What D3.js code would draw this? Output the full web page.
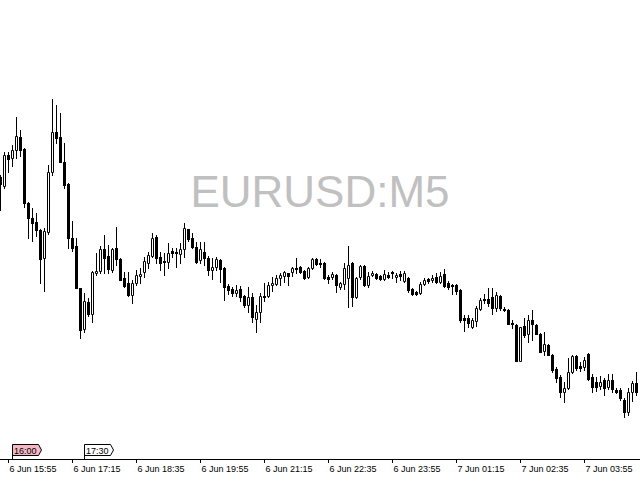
<!DOCTYPE html>
<html>
<head>
<meta charset="utf-8">
<script src="https://cdn.jsdelivr.net/npm/d3@7"></script>
<style>
  body { margin: 0; background: #fff; }
  svg { display: block; }
</style>
</head>
<body>
<div id="chart"></div>
<script>
"use strict";

// chart title (watermark) and bar timing
var symbolTitle = "EURUSD:M5";
var firstBar = "2019-06-06 15:45";
var barMinutes = 5;

// OHLC prices, one per M5 bar
var openPrices = [
  1.13023,1.13014,1.13045,1.13042,1.13050,1.13063,1.13051,1.12997,1.12982,1.12978,
  1.12970,1.12942,1.12968,1.13028,1.13068,1.13063,1.13038,1.13016,1.12962,1.12954,
  1.12912,1.12871,1.12898,1.12886,1.12927,1.12929,1.12951,1.12944,1.12930,1.12952,
  1.12941,1.12922,1.12917,1.12905,1.12917,1.12924,1.12928,1.12937,1.12944,1.12963,
  1.12943,1.12939,1.12938,1.12949,1.12948,1.12946,1.12951,1.12971,1.12962,1.12953,
  1.12940,1.12948,1.12942,1.12930,1.12933,1.12940,1.12932,1.12914,1.12911,1.12907,
  1.12911,1.12904,1.12895,1.12903,1.12881,1.12888,1.12904,1.12904,1.12915,1.12916,
  1.12922,1.12924,1.12927,1.12928,1.12932,1.12933,1.12929,1.12923,1.12932,1.12941,
  1.12937,1.12937,1.12923,1.12923,1.12925,1.12913,1.12916,1.12922,1.12937,1.12903,
  1.12923,1.12934,1.12915,1.12925,1.12926,1.12924,1.12921,1.12925,1.12928,1.12923,
  1.12926,1.12919,1.12922,1.12911,1.12908,1.12907,1.12916,1.12921,1.12920,1.12923,
  1.12918,1.12926,1.12917,1.12915,1.12915,1.12910,1.12882,1.12882,1.12873,1.12879,
  1.12891,1.12901,1.12901,1.12903,1.12892,1.12904,1.12891,1.12890,1.12877,1.12875,
  1.12839,1.12874,1.12866,1.12880,1.12875,1.12866,1.12849,1.12855,1.12845,1.12831,
  1.12823,1.12808,1.12812,1.12828,1.12844,1.12834,1.12833,1.12846,1.12823,1.12818,
  1.12814,1.12820,1.12813,1.12820,1.12810,1.12810,1.12800,1.12788,1.12808,1.12817
];
var highPrices = [
  1.13025,1.13048,1.13048,1.13055,1.13083,1.13070,1.13052,1.12998,1.12992,1.12987,
  1.12971,1.12972,1.13035,1.13101,1.13095,1.13087,1.13057,1.13017,1.12979,1.12962,
  1.12912,1.12907,1.12902,1.12929,1.12947,1.12954,1.12965,1.12955,1.12952,1.12973,
  1.12942,1.12928,1.12928,1.12920,1.12930,1.12932,1.12943,1.12948,1.12967,1.12965,
  1.12948,1.12947,1.12957,1.12952,1.12952,1.12957,1.12977,1.12971,1.12967,1.12958,
  1.12958,1.12958,1.12944,1.12942,1.12943,1.12941,1.12933,1.12916,1.12913,1.12915,
  1.12914,1.12905,1.12913,1.12907,1.12895,1.12907,1.12917,1.12918,1.12923,1.12925,
  1.12927,1.12929,1.12927,1.12933,1.12942,1.12934,1.12930,1.12933,1.12942,1.12942,
  1.12941,1.12938,1.12925,1.12928,1.12926,1.12918,1.12937,1.12954,1.12938,1.12923,
  1.12935,1.12935,1.12928,1.12929,1.12927,1.12925,1.12930,1.12928,1.12929,1.12927,
  1.12929,1.12929,1.12923,1.12912,1.12909,1.12918,1.12922,1.12922,1.12925,1.12927,
  1.12928,1.12931,1.12919,1.12916,1.12916,1.12911,1.12885,1.12885,1.12882,1.12894,
  1.12902,1.12906,1.12912,1.12912,1.12908,1.12905,1.12893,1.12891,1.12880,1.12876,
  1.12873,1.12882,1.12885,1.12890,1.12876,1.12867,1.12868,1.12856,1.12846,1.12833,
  1.12825,1.12818,1.12842,1.12845,1.12845,1.12838,1.12843,1.12847,1.12826,1.12823,
  1.12824,1.12822,1.12826,1.12826,1.12812,1.12812,1.12802,1.12812,1.12819,1.12828
];
var lowPrices = [
  1.12990,1.13012,1.13028,1.13034,1.13042,1.13044,1.12993,1.12962,1.12959,1.12964,
  1.12917,1.12909,1.12966,1.13025,1.13057,1.13038,1.13012,1.12952,1.12949,1.12912,
  1.12862,1.12868,1.12884,1.12878,1.12925,1.12927,1.12927,1.12927,1.12928,1.12935,
  1.12920,1.12913,1.12904,1.12897,1.12915,1.12917,1.12923,1.12932,1.12943,1.12937,
  1.12930,1.12925,1.12932,1.12943,1.12933,1.12937,1.12943,1.12959,1.12952,1.12937,
  1.12937,1.12935,1.12925,1.12921,1.12930,1.12918,1.12900,1.12906,1.12904,1.12904,
  1.12899,1.12893,1.12888,1.12878,1.12868,1.12878,1.12899,1.12903,1.12909,1.12915,
  1.12915,1.12918,1.12915,1.12924,1.12927,1.12927,1.12921,1.12922,1.12931,1.12935,
  1.12933,1.12921,1.12917,1.12921,1.12908,1.12911,1.12911,1.12893,1.12894,1.12902,
  1.12921,1.12914,1.12913,1.12924,1.12921,1.12920,1.12920,1.12922,1.12922,1.12918,
  1.12920,1.12918,1.12908,1.12905,1.12905,1.12906,1.12915,1.12917,1.12918,1.12917,
  1.12917,1.12913,1.12911,1.12906,1.12906,1.12878,1.12869,1.12873,1.12872,1.12874,
  1.12890,1.12897,1.12894,1.12886,1.12889,1.12890,1.12889,1.12876,1.12872,1.12839,
  1.12839,1.12863,1.12858,1.12860,1.12866,1.12848,1.12845,1.12845,1.12828,1.12818,
  1.12803,1.12798,1.12811,1.12827,1.12830,1.12829,1.12830,1.12820,1.12808,1.12809,
  1.12811,1.12805,1.12811,1.12808,1.12807,1.12800,1.12783,1.12785,1.12799,1.12805
];
var closePrices = [
  1.13016,1.13045,1.13041,1.13050,1.13064,1.13050,1.12997,1.12982,1.12977,1.12970,
  1.12941,1.12969,1.13028,1.13068,1.13062,1.13038,1.13015,1.12962,1.12952,1.12912,
  1.12870,1.12899,1.12886,1.12928,1.12929,1.12951,1.12942,1.12931,1.12951,1.12941,
  1.12920,1.12914,1.12905,1.12917,1.12925,1.12926,1.12939,1.12945,1.12962,1.12942,
  1.12937,1.12938,1.12947,1.12947,1.12947,1.12951,1.12972,1.12961,1.12953,1.12938,
  1.12951,1.12942,1.12930,1.12933,1.12941,1.12931,1.12913,1.12910,1.12907,1.12910,
  1.12903,1.12895,1.12903,1.12883,1.12888,1.12904,1.12903,1.12915,1.12917,1.12922,
  1.12925,1.12928,1.12924,1.12932,1.12931,1.12928,1.12922,1.12932,1.12941,1.12936,
  1.12936,1.12922,1.12921,1.12926,1.12915,1.12917,1.12932,1.12935,1.12903,1.12922,
  1.12934,1.12915,1.12924,1.12927,1.12922,1.12921,1.12926,1.12923,1.12927,1.12925,
  1.12924,1.12927,1.12910,1.12906,1.12906,1.12916,1.12920,1.12919,1.12922,1.12918,
  1.12924,1.12914,1.12913,1.12914,1.12909,1.12880,1.12880,1.12877,1.12880,1.12892,
  1.12900,1.12900,1.12897,1.12892,1.12905,1.12892,1.12890,1.12876,1.12876,1.12839,
  1.12873,1.12865,1.12880,1.12876,1.12866,1.12848,1.12856,1.12845,1.12830,1.12822,
  1.12808,1.12812,1.12828,1.12844,1.12832,1.12832,1.12840,1.12821,1.12813,1.12813,
  1.12818,1.12812,1.12820,1.12811,1.12808,1.12802,1.12788,1.12808,1.12817,1.12808
];

// time axis ticks and the two time tags at the bottom
var tickTimes = ["2019-06-06 15:55", "2019-06-06 17:15", "2019-06-06 18:35", "2019-06-06 19:55",
                 "2019-06-06 21:15", "2019-06-06 22:35", "2019-06-06 23:55", "2019-06-07 01:15",
                 "2019-06-07 02:35", "2019-06-07 03:55"];
var tagTimes = ["2019-06-06 16:00", "2019-06-06 17:30"];
var tagColors = ["#f6b6c4", "#ffffff"];

var width = 640, height = 480, axisY = 459, barSpace = 4;
var priceTop = 1.13200, priceBottom = 1.12741;

var parseTime = d3.timeParse("%Y-%m-%d %H:%M");
var t0 = parseTime(firstBar);

var bars = openPrices.map(function(o, i) {
  return { t: d3.timeMinute.offset(t0, i * barMinutes), o: o, h: highPrices[i], l: lowPrices[i], c: closePrices[i] };
});

var x = d3.scaleTime()
  .domain([t0, d3.timeMinute.offset(t0, bars.length * barMinutes)])
  .range([0, bars.length * barSpace]);
var y = d3.scaleLinear()
  .domain([priceBottom, priceTop])
  .range([axisY, 0]);

function px(t) { return Math.round(x(t)); }
function py(p) { return Math.round(y(p)); }

var svg = d3.select("#chart").append("svg")
  .attr("width", width)
  .attr("height", height)
  .style("font-family", "'Liberation Sans', Arial, sans-serif");

svg.append("rect").attr("width", width).attr("height", height).attr("fill", "#fff");

// watermark
svg.append("text")
  .attr("x", width / 2)
  .attr("y", 207)
  .attr("text-anchor", "middle")
  .style("font-size", "44px")
  .attr("fill", "#c0c0c0")
  .text(symbolTitle);

// candles
var candle = svg.append("g").selectAll("g")
  .data(bars)
  .enter().append("g");

candle.append("rect")   // wick
  .attr("x", function(d) { return px(d.t); })
  .attr("y", function(d) { return py(d.h); })
  .attr("width", 1)
  .attr("height", function(d) { return py(d.l) - py(d.h) + 1; })
  .attr("fill", "#000");

candle.filter(function(d) { return d.c < d.o; })   // bear body
  .append("rect")
  .attr("x", function(d) { return px(d.t) - 1; })
  .attr("y", function(d) { return py(d.o); })
  .attr("width", 3)
  .attr("height", function(d) { return py(d.c) - py(d.o) + 1; })
  .attr("fill", "#000");

candle.filter(function(d) { return d.c >= d.o; })   // bull body
  .append("path")
  .attr("d", function(d) {
    var cx = px(d.t), top = py(d.c), bot = py(d.o);
    return "M" + (cx - 0.5) + "," + (top + 0.5) + "h2v" + (bot - top) + "h-2Z";
  })
  .attr("fill", "#fff")
  .attr("stroke", "#000")
  .attr("stroke-width", 1);

// time axis
var xAxis = d3.axisBottom(x)
  .tickValues(tickTimes.map(parseTime))
  .tickFormat(d3.timeFormat("%-d %b %H:%M"))
  .tickSize(4)
  .tickSizeOuter(0);

var gx = svg.append("g")
  .attr("transform", "translate(0," + axisY + ")")
  .call(xAxis);
gx.select(".domain").attr("d", "M0,0.5H" + width).attr("stroke", "#000");
gx.selectAll(".tick line").attr("stroke", "#000");
gx.selectAll(".tick text")
  .attr("text-anchor", "start")
  .attr("x", 1)
  .attr("y", 13)
  .attr("dy", null)
  .attr("fill", "#000")
  .style("font-family", "'Liberation Sans', Arial, sans-serif")
  .style("font-size", "9px");

// time tags
var tag = svg.append("g").selectAll("g")
  .data(tagTimes.map(parseTime))
  .enter().append("g");

tag.append("path")
  .attr("d", function(d) {
    var tx = px(d) + 0.5;
    return "M" + tx + "," + axisY + "V444.5H" + (tx + 26) + "L" + (tx + 29) + ",450L" + (tx + 26) + ",455.5H" + tx;
  })
  .attr("fill", function(d, i) { return tagColors[i]; })
  .attr("stroke", "#000")
  .attr("stroke-width", 1);

tag.append("text")
  .attr("x", function(d) { return px(d) + 2; })
  .attr("y", 453.5)
  .style("font-size", "9px")
  .attr("fill", "#000")
  .text(d3.timeFormat("%H:%M"));
</script>
</body>
</html>
